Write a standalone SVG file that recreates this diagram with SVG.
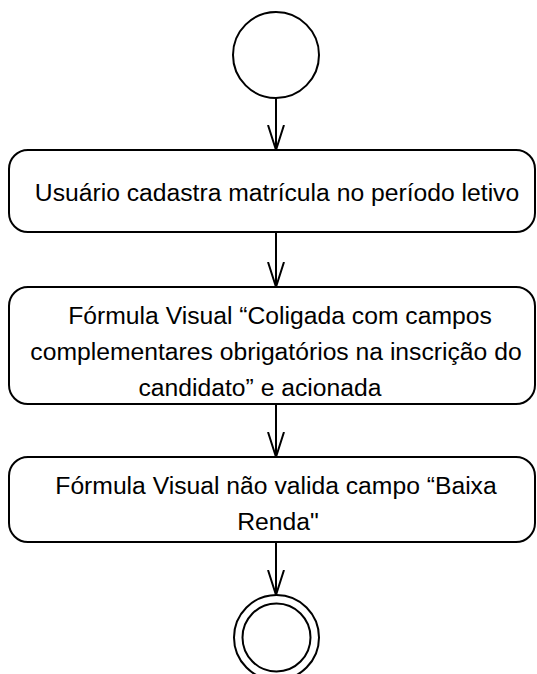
<svg xmlns="http://www.w3.org/2000/svg" width="537" height="674" viewBox="0 0 537 674">
<style>
.shape{fill:#ffffff;stroke:#000000;stroke-width:2}
.edge{fill:none;stroke:#000000;stroke-width:2}
.lbl{font-family:"Liberation Sans",Arial,sans-serif;font-size:24.7px;fill:#000000;text-anchor:middle}
</style>
<defs>
<marker id="open" markerUnits="userSpaceOnUse" markerWidth="30" markerHeight="20" refX="25" refY="9" orient="auto" viewBox="0 0 30 20">
<path d="M0,1 L25,9 L0,17" fill="none" stroke="#000000" stroke-width="2"/>
</marker>
</defs>
<rect width="537" height="674" fill="#ffffff"/>
<g id="connectors">
<line class="edge" x1="276" y1="98" x2="276" y2="150" marker-end="url(#open)"/>
<line class="edge" x1="276" y1="232" x2="276" y2="287" marker-end="url(#open)"/>
<line class="edge" x1="276" y1="404" x2="276" y2="457" marker-end="url(#open)"/>
<line class="edge" x1="276" y1="542" x2="276" y2="595" marker-end="url(#open)"/>
</g>
<g id="start">
<circle class="shape" cx="276" cy="55" r="43"/>
</g>
<g id="n1">
<rect class="shape" x="9" y="150" width="526" height="82" rx="19" ry="19"/>
<text class="lbl" x="277" y="201">Usuário cadastra matrícula no período letivo</text>
</g>
<g id="n2">
<rect class="shape" x="9" y="287" width="526" height="117" rx="19" ry="19"/>
<text class="lbl" x="280" y="324">Fórmula Visual “Coligada com campos</text>
<text class="lbl" x="276" y="360">complementares obrigatórios na inscrição do</text>
<text class="lbl" x="260" y="396">candidato” e acionada</text>
</g>
<g id="n3">
<rect class="shape" x="9" y="457" width="526" height="85" rx="19" ry="19"/>
<text class="lbl" x="276" y="494">Fórmula Visual não valida campo “Baixa</text>
<text class="lbl" x="278" y="530">Renda"</text>
</g>
<g id="end">
<circle class="shape" cx="276.5" cy="637.5" r="42.5"/>
<circle class="shape" cx="276.5" cy="637.5" r="34"/>
</g>
</svg>
